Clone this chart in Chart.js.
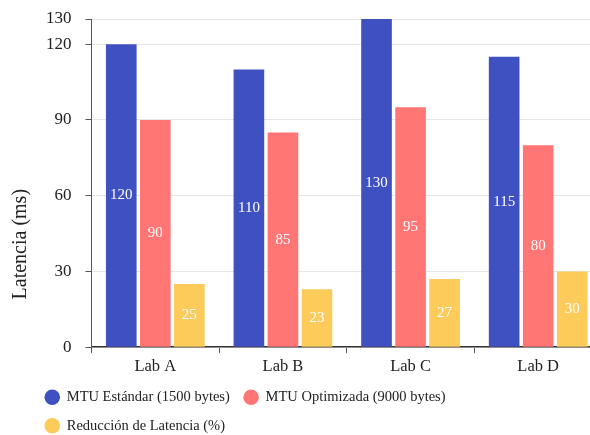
<!DOCTYPE html>
<html lang="es">
<head>
<meta charset="utf-8">
<title>Latencia por laboratorio</title>
<script src="https://cdn.jsdelivr.net/npm/chart.js@4"></script>
<style>
    html, body { margin: 0; padding: 0; background: #fff; overflow: hidden; }
    .wrap { width: 602px; height: 435px; }
</style>
</head>
<body>
<div class="wrap"><canvas id="latencyChart"></canvas></div>
<script>
    // Datos de latencia por laboratorio
    const labs = ['Lab A', 'Lab B', 'Lab C', 'Lab D'];
    const mtuStandard = [120, 110, 130, 115];
    const mtuOptimized = [90, 85, 95, 80];
    const latencyReduction = [25, 23, 27, 30];
    const yTicks = [0, 30, 60, 90, 120, 130];
    const yTitle = 'Latencia (ms)';

    const serif = "'Liberation Serif', 'DejaVu Serif', serif";

    // Valores en blanco dentro de cada barra
    const barValues = {
        id: 'barValues',
        afterDatasetsDraw(chart) {
            const ctx = chart.ctx;
            ctx.save();
            ctx.fillStyle = '#ffffff';
            ctx.font = '15px ' + serif;
            ctx.textAlign = 'center';
            ctx.textBaseline = 'middle';
            chart.data.datasets.forEach((ds, i) => {
                chart.getDatasetMeta(i).data.forEach((bar, j) => {
                    const p = bar.getProps(['x', 'y', 'base'], true);
                    ctx.fillText(ds.data[j], p.x, (p.y + p.base) / 2);
                });
            });
            ctx.restore();
        }
    };

    // Título vertical del eje Y, algo por debajo del centro
    const axisTitle = {
        id: 'axisTitle',
        afterDraw(chart) {
            const ctx = chart.ctx;
            const area = chart.chartArea;
            ctx.save();
            ctx.translate(21, area.bottom - 103);
            ctx.rotate(-Math.PI / 2);
            ctx.fillStyle = '#222';
            ctx.font = '20px ' + serif;
            ctx.textAlign = 'center';
            ctx.textBaseline = 'middle';
            ctx.fillText(yTitle, 0, 0);
            ctx.restore();
        }
    };

    // Leyenda alineada a la izquierda con sangría
    const legendShift = {
        id: 'legendShift',
        afterLayout(chart) {
            if (chart.legend) chart.legend.left = 31;
        }
    };

    const ctx = document.getElementById('latencyChart').getContext('2d');
    new Chart(ctx, {
        type: 'bar',
        data: {
            labels: labs,
            datasets: [{
                label: 'MTU Estándar (1500 bytes)',
                data: mtuStandard,
                backgroundColor: '#3f51c0'
            }, {
                label: 'MTU Optimizada (9000 bytes)',
                data: mtuOptimized,
                backgroundColor: '#ff7675'
            }, {
                label: 'Reducción de Latencia (%)',
                data: latencyReduction,
                backgroundColor: '#fdcb5a'
            }]
        },
        options: {
            responsive: true,
            maintainAspectRatio: false,
            animation: false,
            layout: { padding: { top: 5, right: 0, left: 32, bottom: -8 } },
            datasets: {
                bar: { categoryPercentage: 0.8, barPercentage: 0.9 }
            },
            plugins: {
                tooltip: { enabled: false },
                legend: {
                    position: 'bottom',
                    align: 'start',
                    labels: {
                        usePointStyle: true,
                        pointStyle: 'circle',
                        boxHeight: 11,
                        boxWidth: 15,
                        padding: 14,
                        color: '#222',
                        font: { family: serif, size: 14.5 }
                    }
                }
            },
            scales: {
                x: {
                    afterFit(scale) {
                        scale.height -= 5;
                    },
                    grid: {
                        drawOnChartArea: false,
                        drawTicks: true,
                        tickLength: 6,
                        tickColor: '#555'
                    },
                    border: { color: '#333', width: 1.5 },
                    ticks: {
                        color: '#222',
                        padding: 4,
                        font: { family: serif, size: 16.5 }
                    }
                },
                y: {
                    min: 0,
                    max: 130,
                    afterBuildTicks(scale) {
                        scale.ticks = yTicks.map(v => ({ value: v }));
                    },
                    afterFit(scale) {
                        scale.paddingTop = 19;
                    },
                    grid: {
                        color: '#e6e6e6',
                        tickColor: '#555',
                        tickLength: 6
                    },
                    border: { color: '#555', width: 1 },
                    ticks: {
                        color: '#222',
                        padding: 14,
                        font: { family: serif, size: 17 }
                    }
                }
            }
        },
        plugins: [barValues, axisTitle, legendShift]
    });
</script>
</body>
</html>
